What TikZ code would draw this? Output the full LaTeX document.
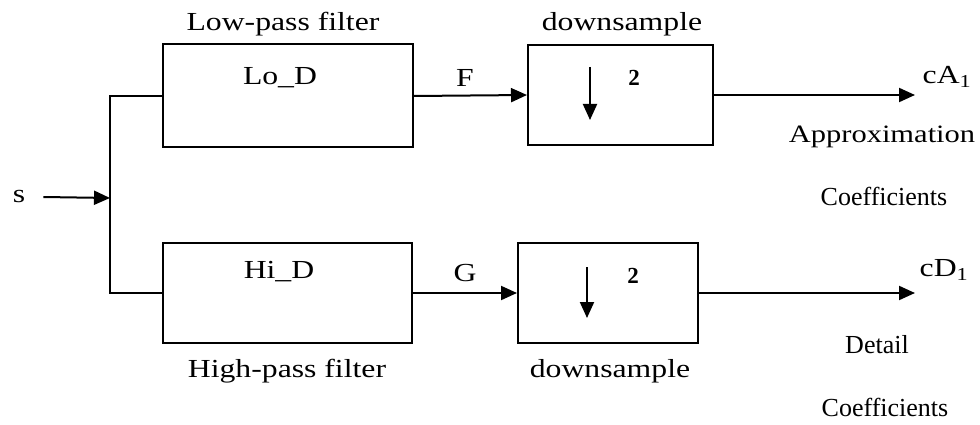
\documentclass[tikz,border=0pt]{standalone}
\usepackage{fontspec}
\setmainfont{Liberation Serif}
\newfontfamily\widefont[FakeStretch=1.22]{Liberation Serif}
\usetikzlibrary{arrows.meta}
\begin{document}
\begin{tikzpicture}[x=1pt,y=-1pt,
  blk/.style={draw, line width=2pt, inner sep=0pt},
  lab/.style={font=\widefont\fontsize{26}{30}\selectfont, inner sep=0pt},
  sm/.style={font=\fontsize{26}{30}\selectfont, inner sep=0pt},
  two/.style={font=\bfseries\fontsize{23}{27}\selectfont, inner sep=0pt},
  conn/.style={line width=2pt},
  arr/.style={conn, -{Triangle[length=16pt,width=14pt]}}]
\useasboundingbox (0,0) rectangle (980,425);
% boxes
\node[blk, minimum width=250pt, minimum height=103pt] (lo) at (288,96) {};
\node[blk, minimum width=249pt, minimum height=100pt] (hi) at (287.5,293) {};
\node[blk, minimum width=185pt, minimum height=100pt] (dsa) at (620.5,95) {};
\node[blk, minimum width=180pt, minimum height=100pt] (dsb) at (608,293) {};
% texts in boxes
\node[lab] (loD) at (280,78) {Lo\_D};
\node[lab] (hiD) at (279,272) {Hi\_D};
\node[two] (twoa) at (634,78) {2};
\node[two] (twob) at (633,276) {2};
% labels
\node[lab] (lpf) at (283,24) {Low-pass filter};
\node[lab] (hpf) at (287,371) {High-pass filter};
\node[lab] (dla) at (622,24) {downsample};
\node[lab] (dlb) at (610,371) {downsample};
\node[lab] (F) at (465,78) {F};
\node[lab] (G) at (465,273) {G};
\node[lab] (s) at (19,197) {s};
\node[lab] (cA) at (947,77) {cA\textsubscript{1}};
\node[lab] (cD) at (944,270) {cD\textsubscript{1}};
\node[lab, font=\widefont\fontsize{25}{29}\selectfont] (appr) at (882,137) {Approximation};
\node[sm] (coa) at (884,196) {Coefficients};
\node[sm] (det) at (877,345) {Detail};
\node[sm] (cob) at (885,407) {Coefficients};
% coordinates
\coordinate (j) at (110,198);
\coordinate (ea) at (915,97);
\coordinate (eb) at (915,293);
\coordinate (da1) at (590,67);
\coordinate (da2) at (590,120);
\coordinate (db1) at (587,267);
\coordinate (db2) at (587,318);
% connectors
\draw[arr] ([xshift=18pt]s.east) -- (j);
\draw[conn] (lo.west) -- (lo.west -| j) -- (hi.west -| j) -- (hi.west);
\draw[arr] (lo.east) -- (dsa.west);
\draw[arr] (hi.east) -- (dsb.west);
\draw[arr] (dsa.east) -- (dsa.east -| ea);
\draw[arr] (dsb.east) -- (dsb.east -| eb);
\draw[arr] (da1) -- (da2);
\draw[arr] (db1) -- (db2);
\end{tikzpicture}
\end{document}
